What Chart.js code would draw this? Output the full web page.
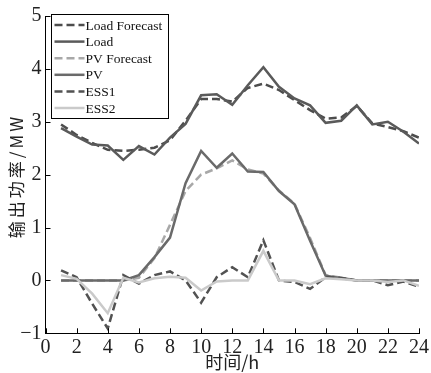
<!DOCTYPE html>
<html>
<head>
<meta charset="utf-8">
<script src="https://cdn.jsdelivr.net/npm/chart.js@4.4.0/dist/chart.umd.min.js"></script>
<style>
  html, body { margin: 0; padding: 0; background: #fff; }
  #wrap { width: 431px; height: 373px; }
</style>
</head>
<body>
<div id="wrap"><canvas id="chart" width="431" height="373"></canvas></div>
<script>
// hours 1..24
const hours = [1, 2, 3, 4, 5, 6, 7, 8, 9, 10, 11, 12, 13, 14, 15, 16, 17, 18, 19, 20, 21, 22, 23, 24];

const loadForecast = [2.95, 2.75, 2.6, 2.47, 2.45, 2.47, 2.51, 2.65, 3.02, 3.43, 3.43, 3.38, 3.64, 3.72, 3.6, 3.41, 3.22, 3.06, 3.08, 3.3, 2.97, 2.9, 2.82, 2.7];
const load = [2.88, 2.72, 2.57, 2.55, 2.28, 2.54, 2.38, 2.7, 2.96, 3.5, 3.52, 3.32, 3.69, 4.03, 3.66, 3.44, 3.31, 2.98, 3.02, 3.31, 2.95, 3.0, 2.81, 2.59];
const pvForecast = [0, 0, 0, 0, 0, 0.05, 0.42, 1.05, 1.69, 2.0, 2.12, 2.27, 2.1, 2.02, 1.7, 1.45, 0.8, 0.1, 0.05, 0, 0, 0, 0, 0];
const pv = [0, 0, 0, 0, 0, 0.1, 0.44, 0.81, 1.84, 2.45, 2.13, 2.4, 2.06, 2.05, 1.69, 1.44, 0.75, 0.09, 0.04, 0, 0, 0, 0, 0];
const ess1 = [0.19, 0.06, -0.44, -0.91, 0.1, -0.06, 0.1, 0.17, 0.0, -0.42, 0.06, 0.25, 0.06, 0.76, 0.0, -0.03, -0.16, 0.06, 0.05, 0.0, 0.0, -0.09, -0.02, -0.12];
const ess2 = [0.1, 0.03, -0.25, -0.62, 0.05, -0.04, 0.04, 0.07, 0.05, -0.19, -0.02, 0.0, 0.0, 0.56, 0.0, 0.0, -0.07, 0.04, 0.02, 0.0, 0.0, -0.03, 0.0, -0.1];

const xTicks = [0, 2, 4, 6, 8, 10, 12, 14, 16, 18, 20, 22, 24];
const yTicks = [-1, 0, 1, 2, 3, 4, 5];

const seriesNames = ['Load Forecast', 'Load', 'PV Forecast', 'PV', 'ESS1', 'ESS2'];
const seriesValues = [loadForecast, load, pvForecast, pv, ess1, ess2];
const seriesColors = ['#4d4d4d', '#5a5a5a', '#a8a8a8', '#6a6a6a', '#525252', '#cacaca'];
const seriesDashed = [true, false, true, false, true, false];

const serif = "'Liberation Serif', 'Times New Roman', serif";
const cjk = "'Noto Sans CJK SC', sans-serif";

const datasets = seriesNames.map((name, i) => ({
    label: name,
    data: hours.map((h, j) => ({ x: h, y: seriesValues[i][j] })),
    borderColor: seriesColors[i],
    borderWidth: 2.5,
    borderDash: seriesDashed[i] ? [8, 4] : [],
    pointRadius: 0,
    tension: 0,
    fill: false,
    order: -i   // later series on top, like the original
}));

// inward tick marks, axis titles and the boxed legend
const decor = {
    id: 'decor',
    afterDraw(chart) {
        const { ctx, chartArea: a, scales } = chart;
        const xs = scales.x, ys = scales.y;
        ctx.save();
        ctx.strokeStyle = '#000';
        ctx.lineWidth = 1;
        ctx.beginPath();
        xTicks.forEach(t => {
            const px = Math.round(xs.getPixelForValue(t)) + 0.5;
            ctx.moveTo(px, a.bottom);
            ctx.lineTo(px, a.bottom - 5);
        });
        yTicks.forEach(t => {
            const py = Math.round(ys.getPixelForValue(t)) + 0.5;
            ctx.moveTo(a.left, py);
            ctx.lineTo(a.left + 5, py);
        });
        ctx.stroke();

        // axis titles
        ctx.fillStyle = '#222';
        ctx.font = '18px ' + cjk;
        ctx.textAlign = 'center';
        ctx.textBaseline = 'middle';
        ctx.fillText('时间/h', (a.left + a.right) / 2, 362);

        ctx.save();
        ctx.translate(16.5, 176);
        ctx.rotate(-Math.PI / 2);
        ctx.font = '17px ' + cjk;
        ctx.letterSpacing = '3px';
        ctx.fillText('输出功率/MW', 0, 0);
        ctx.restore();

        // legend
        const lx = 51.5, ly = 14.5, lw = 117, lh = 104;
        ctx.fillStyle = '#fff';
        ctx.fillRect(lx, ly, lw, lh);
        ctx.strokeStyle = '#000';
        ctx.lineWidth = 1;
        ctx.strokeRect(lx, ly, lw, lh);
        ctx.font = '13.5px ' + serif;
        ctx.textAlign = 'left';
        ctx.textBaseline = 'middle';
        seriesNames.forEach((name, i) => {
            const y = ly + 10.5 + i * 16.6;
            ctx.strokeStyle = seriesColors[i];
            ctx.lineWidth = 2.5;
            ctx.setLineDash(seriesDashed[i] ? [8, 4] : []);
            ctx.beginPath();
            ctx.moveTo(lx + 3, y);
            ctx.lineTo(lx + 33, y);
            ctx.stroke();
            ctx.setLineDash([]);
            ctx.fillStyle = '#111';
            ctx.fillText(name, lx + 34, y + 1);
        });
        ctx.restore();
    }
};

new Chart(document.getElementById('chart').getContext('2d'), {
    type: 'line',
    data: { datasets },
    options: {
        responsive: false,
        animation: false,
        layout: { padding: { top: 13, right: 11, left: 0, bottom: 0 } },
        plugins: { legend: { display: false }, tooltip: { enabled: false } },
        scales: {
            x: {
                type: 'linear',
                min: 0, max: 24,
                afterBuildTicks: s => { s.ticks = xTicks.map(v => ({ value: v })); },
                afterFit: s => { s.height = 39.7; },
                grid: { drawOnChartArea: false, drawTicks: false },
                border: { color: '#000', width: 1 },
                ticks: { color: '#222', padding: 2, maxRotation: 0, font: { family: serif, size: 20 } }
            },
            y: {
                min: -1, max: 5,
                afterBuildTicks: s => { s.ticks = yTicks.map(v => ({ value: v })); },
                afterFit: s => { s.width = 45.5; },
                grid: { drawOnChartArea: false, drawTicks: false },
                border: { color: '#000', width: 1 },
                ticks: {
                    color: '#222', padding: 4,
                    font: { family: serif, size: 20 },
                    callback: v => (v < 0 ? '\u2212' + Math.abs(v) : String(v))
                }
            }
        }
    },
    plugins: [decor]
});
</script>
</body>
</html>
